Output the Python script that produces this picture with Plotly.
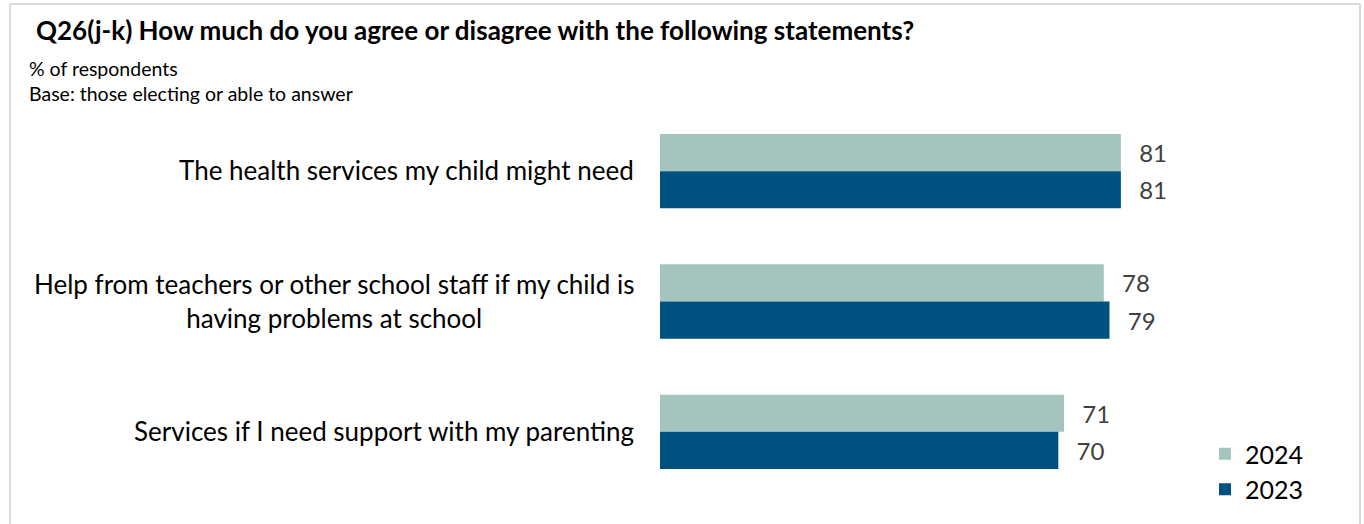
import plotly.graph_objects as go

categories = [
    "The health services my child might need",
    "Help from teachers or other school staff if my child is<br>having problems at school",
    "Services if I need support with my parenting",
]
cat_keys = ["c1", "c2", "c3"]
values_2024 = [81, 78, 71]
values_2023 = [81, 79, 70]
series_names = ["2024", "2023"]

FONT = "Lato, 'Open Sans', sans-serif"
C24 = "#A4C5BD"
C23 = "#00517F"

fig = go.Figure()
for name, vals, col in [(series_names[0], values_2024, C24), (series_names[1], values_2023, C23)]:
    fig.add_trace(go.Bar(
        y=cat_keys, x=vals, name=name, orientation="h",
        marker=dict(color=col, line=dict(width=0)),
        text=vals, texttemplate="\u00a0\u00a0\u2009%{x}", textposition="outside",
        textfont=dict(family=FONT, size=24, color="#404040"),
        cliponaxis=False,
    ))

L, R, T, B = 660, 135, 106, 27
W, H = 1364, 524
pw = W - L - R
ph = H - T - B

def px2x(px):
    return (px - L) / pw

def py2y(py):
    return (H - B - py) / ph

annotations = []
for k, lab in zip(cat_keys, categories):
    annotations.append(dict(
        x=px2x(636), xref="paper", y=k, yref="y", text=lab,
        xanchor="right", yanchor="middle", align="center", showarrow=False,
        yshift=1,
        font=dict(family=FONT, size=26, color="#000000"),
    ))

annotations.append(dict(
    x=px2x(34), xref="paper", y=py2y(30), yref="paper",
    text="<b>Q26(j-k) How much do you agree or disagree with the following statements?</b>",
    xanchor="left", yanchor="middle", showarrow=False,
    font=dict(family=FONT, size=26, color="#000000"),
))
annotations.append(dict(
    x=px2x(27), xref="paper", y=py2y(68), yref="paper",
    text="% of respondents", xanchor="left", yanchor="middle", showarrow=False,
    font=dict(family=FONT, size=19.5, color="#000000"),
))
annotations.append(dict(
    x=px2x(27), xref="paper", y=py2y(94), yref="paper",
    text="Base: those electing or able to answer", xanchor="left", yanchor="middle", showarrow=False,
    font=dict(family=FONT, size=19.5, color="#000000"),
))

shapes = [
    dict(type="line", xref="paper", yref="paper", x0=px2x(10), x1=px2x(10), y0=py2y(4), y1=py2y(530),
         line=dict(color="#D9D9D9", width=2)),
    dict(type="line", xref="paper", yref="paper", x0=px2x(1360), x1=px2x(1360), y0=py2y(4), y1=py2y(530),
         line=dict(color="#D9D9D9", width=2)),
    dict(type="line", xref="paper", yref="paper", x0=px2x(10), x1=px2x(1360), y0=py2y(4), y1=py2y(4),
         line=dict(color="#D9D9D9", width=2)),
]

fig.update_layout(
    width=W, height=H,
    margin=dict(l=L, r=R, t=T, b=B, autoexpand=False),
    paper_bgcolor="white", plot_bgcolor="white",
    barmode="group", bargap=0.43, bargroupgap=0,
    xaxis=dict(range=[0, 100], visible=False, fixedrange=True),
    yaxis=dict(autorange="reversed", showticklabels=False, showgrid=False, zeroline=False, showline=False),
    legend=dict(
        xref="container", yref="container", x=1205 / W, y=1 - 431 / H,
        xanchor="left", yanchor="top", traceorder="normal",
        font=dict(family=FONT, size=25, color="#000000"),
        itemwidth=30, tracegroupgap=0, bgcolor="rgba(0,0,0,0)",
    ),
    annotations=annotations,
    shapes=shapes,
    showlegend=True,
)

fig.write_html(
    "out.html",
    config={"displayModeBar": False},
    post_script="document.body.style.margin='0';document.body.style.overflow='hidden';",
)
